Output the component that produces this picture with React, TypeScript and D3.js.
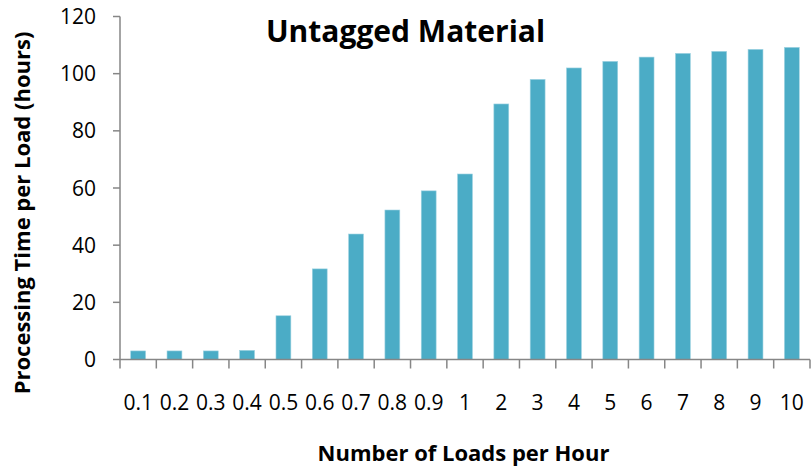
import React, { useEffect, useRef } from 'react';
import * as d3 from 'd3';

// categories (loads per hour) and processing time per load (hours)
const loadRates = ['0.1', '0.2', '0.3', '0.4', '0.5', '0.6', '0.7', '0.8', '0.9', '1', '2', '3', '4', '5', '6', '7', '8', '9', '10'];
const processingHours = [3.0, 3.0, 3.0, 3.2, 15.3, 31.7, 43.9, 52.3, 59.0, 64.9, 89.4, 98.0, 102.0, 104.3, 105.8, 107.1, 107.8, 108.5, 109.2];
const yTicks = [0, 20, 40, 60, 80, 100, 120];

const WIDTH = 812;
const HEIGHT = 472;
const margin = { top: 16.5, right: 2, bottom: 112.5, left: 120 };
const FONT = '"Open Sans", Lato, sans-serif';

const App: React.FC = () => {
  const svgRef = useRef<SVGSVGElement>(null);

  useEffect(() => {
    if (!svgRef.current) return;
    const svg = d3.select(svgRef.current);
    svg.selectAll('*').remove();

    const innerW = WIDTH - margin.left - margin.right;
    const innerH = HEIGHT - margin.top - margin.bottom;

    const x = d3.scaleBand<string>().domain(loadRates).range([0, innerW]).paddingInner(0.59).paddingOuter(0.295);
    const xb = d3.scaleBand<string>().domain(loadRates).range([0, innerW]);
    const y = d3.scaleLinear().domain([0, 120]).range([innerH, 0]);

    const g = svg.append('g').attr('transform', `translate(${margin.left},${margin.top})`);

    // bars
    g.selectAll('rect.bar')
      .data(loadRates)
      .join('rect')
      .attr('class', 'bar')
      .attr('x', d => x(d)!)
      .attr('width', x.bandwidth())
      .attr('y', (_, i) => y(processingHours[i]))
      .attr('height', (_, i) => innerH - y(processingHours[i]))
      .attr('fill', '#4BACC6')
      .attr('stroke', '#9fd3e2')
      .attr('stroke-width', 0.6);

    const axisColor = '#868686';

    // y axis
    const yAxis = g.append('g');
    yAxis.append('line').attr('x1', 0).attr('x2', 0).attr('y1', 0).attr('y2', innerH)
      .attr('stroke', axisColor).attr('stroke-width', 1.5);
    yAxis.selectAll('line.tick').data(yTicks).join('line')
      .attr('class', 'tick')
      .attr('x1', -7).attr('x2', 0)
      .attr('y1', d => y(d)).attr('y2', d => y(d))
      .attr('stroke', axisColor).attr('stroke-width', 1.5);
    yAxis.selectAll('text').data(yTicks).join('text')
      .attr('x', -24).attr('y', d => y(d)).attr('dy', '0.36em')
      .attr('text-anchor', 'end')
      .attr('font-family', FONT).attr('font-size', 21).attr('fill', '#000')
      .text(d => d);

    // x axis
    const xAxis = g.append('g').attr('transform', `translate(0,${innerH})`);
    xAxis.append('line').attr('x1', 0).attr('x2', innerW).attr('stroke', axisColor).attr('stroke-width', 1.5);
    const boundaries = loadRates.map(d => xb(d)!).concat([innerW]);
    xAxis.selectAll('line.tick').data(boundaries).join('line')
      .attr('class', 'tick')
      .attr('x1', d => d).attr('x2', d => d)
      .attr('y1', 0).attr('y2', 9)
      .attr('stroke', axisColor).attr('stroke-width', 1.5);
    xAxis.selectAll('text').data(loadRates).join('text')
      .attr('x', d => xb(d)! + xb.bandwidth() / 2).attr('y', 50)
      .attr('text-anchor', 'middle')
      .attr('font-family', FONT).attr('font-size', 21).attr('fill', '#000')
      .text(d => d);

    // titles
    svg.append('text')
      .attr('x', 405.5).attr('y', 42)
      .attr('text-anchor', 'middle')
      .attr('font-family', FONT).attr('font-weight', 'bold').attr('font-size', 30)
      .text('Untagged Material');

    svg.append('text')
      .attr('x', 463.5).attr('y', 461)
      .attr('text-anchor', 'middle')
      .attr('font-family', FONT).attr('font-weight', 'bold').attr('font-size', 22)
      .text('Number of Loads per Hour');

    svg.append('text')
      .attr('transform', `translate(30,213) rotate(-90)`)
      .attr('text-anchor', 'middle')
      .attr('font-family', FONT).attr('font-weight', 'bold').attr('font-size', 22)
      .text('Processing Time per Load (hours)');
  }, []);

  return (
    <svg
      ref={svgRef}
      width={WIDTH}
      height={HEIGHT}
      style={{ position: 'absolute', left: 0, top: 0, background: '#fff' }}
    />
  );
};

export default App;
